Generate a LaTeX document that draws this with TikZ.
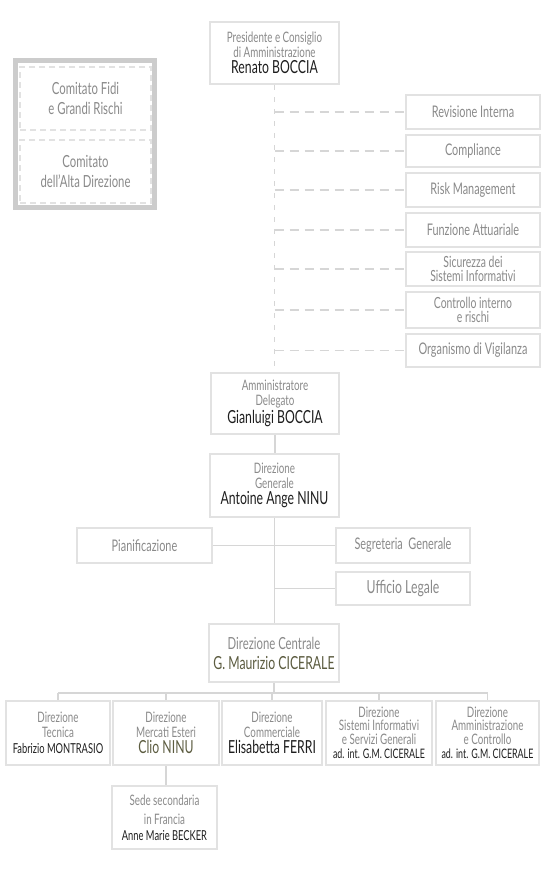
\documentclass[tikz,border=0pt]{standalone}
\usepackage{fontspec}
\setmainfont{Lato}[FakeStretch=0.68]
\definecolor{bord}{HTML}{E2E2E2}
\definecolor{lin}{HTML}{D6D6D6}
\definecolor{ttl}{HTML}{8A8A8A}
\definecolor{nam}{HTML}{1E1E1E}
\definecolor{oli}{HTML}{5C5C40}
\definecolor{frame}{HTML}{CCCCCC}
\newcommand\mybox[7]{\node[box,#2,minimum width={(#5-#3)*0.75pt},minimum height={(#6-#4)*0.75pt}] (#1) at ({(#3+#5)/2},{(#4+#6)/2}) {#7};}
\newcommand\nm[1]{\\[1pt]{\fontsize{13.5}{15}\selectfont\color{nam}#1}}
\newcommand\nmo[1]{\\[1pt]{\fontsize{13.5}{15}\selectfont\color{oli}#1}}
\newcommand\nms[1]{\\[1pt]{\fontsize{9.8}{11}\selectfont\color{nam}#1}}
\begin{document}
\begin{tikzpicture}[x=0.75pt,y=-0.75pt,
  box/.style={draw=bord, line width=1.5pt, fill=white, inner sep=1pt, align=center, text=ttl, font=\fontsize{10.8}{11}\selectfont},
  big/.style={font=\fontsize{12}{13}\selectfont},
  tight/.style={font=\fontsize{11.5}{10}\selectfont},
  conn/.style={draw=lin, line width=0.8pt},
  dconn/.style={conn, dash pattern=on 6.75pt off 4.5pt},
  vdconn/.style={conn, dash pattern=on 4pt off 5pt},
  dbox/.style={box, draw=bord, line width=1pt, dash pattern=on 4.5pt off 3pt, font=\fontsize{12.5}{14.5}\selectfont}]
\useasboundingbox (0,0) rectangle (550,869);
% top
\mybox{pres}{}{210}{22}{339}{84}{Presidente e Consiglio\\di Amministrazione\nm{Renato BOCCIA}}
% comitati
\draw[frame, line width=3.75pt] (15.5,60.5) rectangle (154,207.5);
\mybox{cfidi}{dbox}{20}{67}{151}{130}{Comitato Fidi\\e Grandi Rischi}
\mybox{calta}{dbox}{20}{140}{151}{203}{Comitato\\dell'Alta Direzione}
% staff
\mybox{rev}{big}{406}{95}{540}{129}{Revisione Interna}
\mybox{comp}{big}{406}{135}{540}{167}{Compliance}
\mybox{risk}{big}{406}{173}{540}{207}{Risk Management}
\mybox{fatt}{big}{406}{213}{540}{247}{Funzione Attuariale}
\mybox{sic}{tight}{406}{252}{540}{286}{Sicurezza dei\\Sistemi Informativi}
\mybox{cint}{tight}{406}{292}{540}{328}{Controllo interno\\e rischi}
\mybox{odv}{big}{406}{334}{540}{367}{Organismo di Vigilanza}
% AD, DG
\mybox{ad}{}{211}{373}{339}{434}{Amministratore\\Delegato\nm{Gianluigi BOCCIA}}
\mybox{dg}{}{210}{454}{339}{517}{Direzione\\Generale\nm{Antoine Ange NINU}}
\mybox{pian}{big}{77}{528}{212}{563}{Pianificazione}
\mybox{seg}{big}{336}{528}{470}{563}{Segreteria~ Generale}
\mybox{leg}{font=\fontsize{13.5}{15}\selectfont}{336}{572}{470}{605}{Ufficio Legale}
\mybox{dc}{font=\fontsize{12.5}{14}\selectfont}{209}{624}{339}{682}{Direzione Centrale\nmo{G. Maurizio CICERALE}}
% bottom
\mybox{b1}{}{6}{701}{110}{765}{Direzione\\Tecnica\\[1pt]{\fontsize{10.3}{11}\selectfont\color{nam}Fabrizio MONTRASIO}}
\mybox{b2}{}{113}{701}{219}{765}{Direzione\\Mercati Esteri\nmo{Clio NINU}}
\mybox{b3}{}{222}{701}{322}{765}{Direzione\\Commerciale\nm{Elisabetta FERRI}}
\mybox{b4}{font=\fontsize{10.8}{10}\selectfont}{326}{701}{432}{765}{Direzione\\Sistemi Informativi\\e Servizi Generali\nms{ad. int. G.M. CICERALE}}
\mybox{b5}{font=\fontsize{10.8}{10}\selectfont}{436}{701}{539}{765}{Direzione\\Amministrazione\\e Controllo\nms{ad. int. G.M. CICERALE}}
\mybox{sede}{}{112}{786}{217}{849}{Sede secondaria\\[3pt]in Francia\\[1pt]{\fontsize{10.3}{11}\selectfont\color{nam}Anne Marie BECKER}}
% connectors
\draw[vdconn] (pres.south) -- (pres.south |- ad.north);
\foreach \b in {rev,comp,risk,fatt,sic,cint,odv}{\draw[dconn] (pres.south |- \b.west) -- (\b.west);}
\draw[conn] (ad.south) -- (ad.south |- dg.north);
\draw[conn] (dg.south) -- (dg.south |- dc.north);
\draw[conn] (pian.east) -- (seg.west);
\draw[conn] (dg.south |- leg.west) -- (leg.west);
\coordinate (bus) at (273,693);
\draw[conn] (dc.south) -- (dc.south |- bus);
\draw[conn] (b1.north |- bus) -- (b5.north |- bus);
\foreach \b in {b1,b2,b3,b4,b5}{\draw[conn] (\b.north |- bus) -- (\b.north);}
\draw[conn] (b2.south) -- (b2.south |- sede.north);
\end{tikzpicture}
\end{document}
